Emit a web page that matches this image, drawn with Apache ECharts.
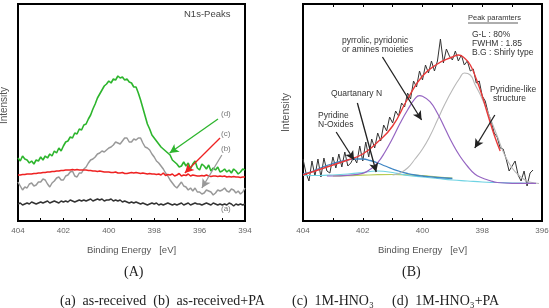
<!DOCTYPE html>
<html><head><meta charset="utf-8">
<script src="https://cdn.jsdelivr.net/npm/echarts@6/dist/echarts.min.js"></script>
<style>html,body{margin:0;padding:0;background:#fff}#c{width:549px;height:308px}</style>
</head><body><div id="c"></div>
<script>
// ---- Panel A: N1s spectra (intensity in arbitrary units), sampled every 0.1 eV from 404 to 394
const startA = 404, stepA = 0.1;
const seriesA_a = [17,18,16,17,18,17,19,18,17,18, 19,18,19,20,18,19,20,19,18,20, 19,20,19,21,20,19,20,21,20,21, 20,21,22,20,21,22,21,22,20,21, 21,22,20,21,20,21,19,20,19,18, 19,18,19,18,17,18,17,16,17,18, 17,18,16,17,16,17,18,17,16,17, 16,17,18,16,17,18,16,17,18,17, 17,16,17,18,17,16,18,17,16,17, 16,17,16,18,17,15,17,16,17,16, 17];
const seriesA_b = [39,35,31,34,33,37,38,35,36,39, 39,42,41,37,34,38,40,43,44,41, 41,45,46,49,50,45,44,48,48,52, 54,58,61,62,64,67,68,70,69,71, 73,74,76,79,78,77,80,83,83,79, 79,82,81,83,83,78,74,73,71,67, 64,60,58,55,52,48,45,41,38,35, 33,36,39,35,34,31,33,30,33,29, 29,27,28,31,30,29,26,28,31,30, 31,33,30,29,32,31,28,30,27,29, 33];
const seriesA_c = [46,46,46.5,46.5,47,47,47,47.5,47.5,48, 48,48.5,48.5,49,49,49.5,49.5,50,50,50.5, 50.5,51,51,51,51.5,51,51.5,51,51,51, 51,50.5,50.5,50,50,49.5,50,49.5,49,49, 49,48.5,48.5,49,48,48,48.5,47.5,47.5,48, 48.5,48,48.5,48,47.5,48,47.5,47,47.5,47, 47,46.5,47,46,48,45.5,46.5,46,47,45, 46,47.5,45,46,45.5,47,45,46,45.5,45, 45,45.5,45,46,45,44.5,45,45,44.5,45, 44.5,45,44,44.5,44,44.5,44,44,43.5,44, 44];
const seriesA_d = [63,60,65,62,61,58,60,57,61,60, 64,61,65,63,67,65,70,68,73,70, 75,79,80,84,83,88,87,92,91,96, 97,102,106,112,117,123,127,131,135,137, 140,138,142,141,145,143,144,141,142,139, 138,134,134,128,121,113,105,97,92,86, 83,80,77,74,72,70,68,66,61,59, 57,54,55,59,55,58,52,57,60,53, 51,57,55,52,56,50,53,51,54,49, 50,52,49,51,48,52,50,47,49,52, 51];
const ticksA = [404,402,400,398,396,394];

// ---- Panel B: measured N1s spectrum (0.1 eV steps from 404) and fitted components
const startB = 404, stepB = 0.1;
const measuredB = [62,48,40,60,45,62,44,63,50,48, 64,53,67,54,69,55,58,64,58,75, 60,79,64,82,73,88,80,96,90,104, 98,110,105,118,114,128,122,140,134,150, 141,156,148,160,150,160,182,158,172,165, 161,170,160,166,156,160,150,152,138,140, 125,120,108,100,88,84,73,72,62,50, 55,60,46,40,50,35,48,51];
const envelopeE = [404,403.5,403,402.5,402,401.5,401,400.5,400,399.5,399,398.8,398.6,398.4,398.2,398,397.8,397.6,397.4];
const envelopeV = [46,51,56,61,67,79,95,122,145,157,164,166,163,156,142,125,105,86,70];
const pyrrolicE = [403.2,403,402.5,402,401.75,401.5,401.25,401,400.75,400.5,400.25,400.1,400,399.75,399.5,399.25,399,398.75,398.5,398.25,398,397.75,397.5,397,396.5,396.2];
const pyrrolicV = [45,45,45.7,47.7,51.7,58.3,69.3,82.7,97.7,111,122.3,125.3,124.7,119.3,107.7,92.7,77.7,65,55,47,43,40.5,38.5,37.7,37.7,37.7];
const pyridineE = [401,400.75,400.5,400.25,400,399.75,399.5,399.25,399,398.75,398.6,398.4,398.25,398,397.75,397.5,397.25,397,396.75,396.5,396.25,396.1];
const pyridineV = [46,48,53,62,72,85,101,117,131,143,148,146,137,122,104,85,66,53,45,40,38,37.5];
const oxideE = [404,403.75,403.5,403.25,403,402.75,402.5,402.25,402,401.75,401.5,401.25,401,400.75,400.5,400.25,400,399.5,399];
const oxideV = [47,49,52,55,57.5,59.5,61,62,62,60.5,58,55,52,49.5,47.5,46,45,43.5,42.5];
const quatE = [404,403.5,403,402.5,402,401.75,401.5,401.25,401,400.75,400.5,400,399.5,399,398.5,398,397.5,397,396.5,396.2];
const quatV = [45.5,45.5,46,47,48.5,49.5,50,49.5,48.5,47,45.5,44,42.5,41,40,39,38.5,38,37.7,37.5];
const minorE = [403,402.5,402,401.5,401,400.5,400,399.5,399];
const minorV = [45,45.3,45.8,46.3,46.5,46.2,45.3,44,43];
const ticksB = [404,402,400,398,396];

function sampled(start, step, vals){ return vals.map((v,i)=>[+(start - i*step).toFixed(2), v]); }
function pairs(es, vs){ return es.map((e,i)=>[e, vs[i]]); }
function arrow(a, b, color){ return [{coord:a, lineStyle:{color:color}}, {coord:b}]; }

const sans = 'Liberation Sans, Arial, sans-serif';
const serif = 'Liberation Serif, DejaVu Serif, serif';

const chart = echarts.init(document.getElementById('c'), null, {renderer:'canvas'});
const xCommon = {
  type:'value', inverse:true, interval:2,
  axisLine:{show:false},
  axisTick:{show:true, inside:true, length:3, lineStyle:{color:'#000'}},
  minorTick:{show:true, splitNumber:2, length:3, lineStyle:{color:'#000'}},
  splitLine:{show:false},
  axisLabel:{color:'#666', fontSize:8, fontFamily:sans, margin:6},
  name:'Binding Energy   [eV]', nameLocation:'middle', nameGap:24,
  nameTextStyle:{color:'#555', fontSize:9.5, fontFamily:sans}
};
const yCommon = {
  type:'value', min:0, max:217, axisLabel:{show:false}, axisTick:{show:false},
  axisLine:{show:false}, splitLine:{show:false},
  name:'Intensity', nameLocation:'middle', nameRotate:90,
  nameTextStyle:{color:'#555', fontSize:10, fontFamily:sans}
};
const lineBase = {type:'line', showSymbol:false, symbol:'none', animation:false, silent:true};
const mlBase = {symbol:['none','arrow'], symbolSize:[7,9], silent:true, animation:false,
  label:{show:false}, lineStyle:{type:'solid', width:1.3}};

chart.setOption({
  animation:false,
  grid:[
    {left:18, top:4, width:227, height:217, show:true, borderColor:'#000', borderWidth:2, outerBoundsMode:'none'},
    {left:303, top:4, width:239, height:217, show:true, borderColor:'#000', borderWidth:2, outerBoundsMode:'none'}
  ],
  xAxis:[
    Object.assign({}, xCommon, {gridIndex:0, min:394, max:404}),
    Object.assign({}, xCommon, {gridIndex:1, min:396, max:404, nameGap:24}),
    {gridIndex:1, type:'value', inverse:true, min:396, max:404, interval:1, position:'top',
     axisLine:{show:false}, axisLabel:{show:false}, splitLine:{show:false},
     axisTick:{show:true, inside:true, length:3, lineStyle:{color:'#000'}}}
  ],
  yAxis:[
    Object.assign({}, yCommon, {gridIndex:0, nameGap:9, nameTextStyle:{color:'#555', fontSize:10, fontFamily:sans, padding:[0,0,0,14]}}),
    Object.assign({}, yCommon, {gridIndex:1, nameGap:11, nameTextStyle:{color:'#555', fontSize:10.5, fontFamily:sans}})
  ],
  series:[
    Object.assign({}, lineBase, {name:'(a)', xAxisIndex:0, yAxisIndex:0, data:sampled(startA,stepA,seriesA_a), lineStyle:{color:'#333', width:1.5}}),
    Object.assign({}, lineBase, {name:'(b)', xAxisIndex:0, yAxisIndex:0, data:sampled(startA,stepA,seriesA_b), lineStyle:{color:'#999', width:1.5},
      markLine:Object.assign({}, mlBase, {data:[arrow([395.02,66],[395.9,33],'#999')]})}),
    Object.assign({}, lineBase, {name:'(c)', xAxisIndex:0, yAxisIndex:0, data:sampled(startA,stepA,seriesA_c), lineStyle:{color:'#ee2222', width:1.5},
      markLine:Object.assign({}, mlBase, {data:[arrow([395.1,83],[396.65,48],'#ee2222')]})}),
    Object.assign({}, lineBase, {name:'(d)', xAxisIndex:0, yAxisIndex:0, data:sampled(startA,stepA,seriesA_d), lineStyle:{color:'#2db52d', width:1.6},
      markLine:Object.assign({}, mlBase, {data:[arrow([395.19,102],[397.32,68],'#2db52d')]})}),

    Object.assign({}, lineBase, {name:'measured', xAxisIndex:1, yAxisIndex:1, data:sampled(startB,stepB,measuredB), lineStyle:{color:'#333', width:1}},
      {markLine:Object.assign({}, mlBase, {data:[
        arrow([401.34,164],[400.03,101],'#222'),
        arrow([402.18,118],[401.55,49],'#222'),
        arrow([402.89,89],[402.29,61],'#222'),
        arrow([397.58,106],[398.25,73],'#222')
      ]})}),
    Object.assign({}, lineBase, {name:'minor', xAxisIndex:1, yAxisIndex:1, smooth:true, data:pairs(minorE,minorV), lineStyle:{color:'#b8cc55', width:1.2}}),
    Object.assign({}, lineBase, {name:'quaternary', xAxisIndex:1, yAxisIndex:1, smooth:true, data:pairs(quatE,quatV), lineStyle:{color:'#6fd3e3', width:1.2}}),
    Object.assign({}, lineBase, {name:'oxide', xAxisIndex:1, yAxisIndex:1, smooth:true, data:pairs(oxideE,oxideV), lineStyle:{color:'#3f86c4', width:1.3}}),
    Object.assign({}, lineBase, {name:'pyridine', xAxisIndex:1, yAxisIndex:1, smooth:true, data:pairs(pyridineE,pyridineV), lineStyle:{color:'#b8b8b8', width:1.1}}),
    Object.assign({}, lineBase, {name:'pyrrolic', xAxisIndex:1, yAxisIndex:1, smooth:true, data:pairs(pyrrolicE,pyrrolicV), lineStyle:{color:'#9565c2', width:1.2}}),
    Object.assign({}, lineBase, {name:'envelope', xAxisIndex:1, yAxisIndex:1, smooth:true, data:pairs(envelopeE,envelopeV), lineStyle:{color:'#e83a3a', width:1.4}})
  ],
  graphic:[
    {type:'text', left:184, top:9, style:{text:'N1s-Peaks', fill:'#444', font:'9.5px '+sans}},
    {type:'text', left:221, top:110, style:{text:'(d)', fill:'#777', font:'8px '+sans}},
    {type:'text', left:221, top:130, style:{text:'(c)', fill:'#777', font:'8px '+sans}},
    {type:'text', left:221, top:145, style:{text:'(b)', fill:'#777', font:'8px '+sans}},
    {type:'text', left:221, top:205, style:{text:'(a)', fill:'#777', font:'8px '+sans}},

    {type:'text', left:468, top:14, style:{text:'Peak paramters', fill:'#333', font:'7.5px '+sans}},
    {type:'line', shape:{x1:468, y1:23, x2:518, y2:23}, style:{stroke:'#333', lineWidth:0.8}},
    {type:'text', left:472, top:30, style:{text:'G-L : 80%', fill:'#333', font:'8.5px '+sans}},
    {type:'text', left:472, top:39, style:{text:'FWHM : 1.85', fill:'#333', font:'8.5px '+sans}},
    {type:'text', left:472, top:48, style:{text:'B.G : Shirly type', fill:'#333', font:'8.5px '+sans}},
    {type:'text', left:342, top:36, style:{text:'pyrrolic, pyridonic', fill:'#333', font:'8.5px '+sans}},
    {type:'text', left:342, top:45, style:{text:'or amines moieties', fill:'#333', font:'8.5px '+sans}},
    {type:'text', left:331, top:89, style:{text:'Quartanary N', fill:'#333', font:'8.5px '+sans}},
    {type:'text', left:318, top:111, style:{text:'Pyridine', fill:'#333', font:'8.5px '+sans}},
    {type:'text', left:318, top:120, style:{text:'N-Oxides', fill:'#333', font:'8.5px '+sans}},
    {type:'text', left:490, top:85, style:{text:'Pyridine-like', fill:'#333', font:'8.5px '+sans}},
    {type:'text', left:493, top:94, style:{text:'structure', fill:'#333', font:'8.5px '+sans}},

    {type:'text', left:124, top:265, style:{text:'(A)', fill:'#222', font:'14px '+serif}},
    {type:'text', left:402, top:265, style:{text:'(B)', fill:'#222', font:'14px '+serif}},
    {type:'text', left:60, top:294, style:{text:'(a)  as-received  (b)  as-received+PA', fill:'#222', font:'14px '+serif}},
    {type:'text', left:292, top:294, style:{text:'(c)  1M-HNO\u2083', fill:'#222', font:'14px '+serif}},
    {type:'text', left:392, top:294, style:{text:'(d)  1M-HNO\u2083+PA', fill:'#222', font:'14px '+serif}}
  ]
});
</script></body></html>
